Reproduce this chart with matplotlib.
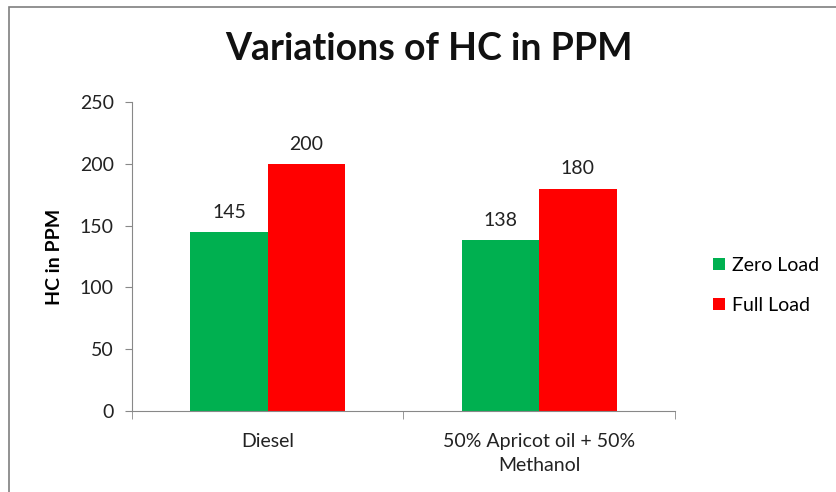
import matplotlib.pyplot as plt
from matplotlib.patches import Rectangle
import numpy as np

# chart data
categories = ['Diesel', '50% Apricot oil + 50%\nMethanol']
zero_load = [145, 138]
full_load = [200, 180]
series_names = ['Zero Load', 'Full Load']
colors = ['#00B050', '#FF0000']
y_ticks = [0, 50, 100, 150, 200, 250]

plt.rcParams['font.family'] = ['Lato', 'DejaVu Sans']

fig = plt.figure(figsize=(8.37, 4.92), dpi=100)
ax = fig.add_axes([0.1577, 0.1646, 0.6487, 0.628])

# gray outer border of the chart
fig.patches.append(Rectangle((9 / 837, -0.1), 1.2, 1 - 7 / 492 + 0.1, transform=fig.transFigure,
                             fill=False, edgecolor='#7f7f7f', linewidth=1.2))

x = np.arange(len(categories))
w = 0.285
b1 = ax.bar(x - w / 2, zero_load, w, color=colors[0], label=series_names[0])
b2 = ax.bar(x + w / 2, full_load, w, color=colors[1], label=series_names[1])

for bars, vals in [(b1, zero_load), (b2, full_load)]:
    for rect, v in zip(bars, vals):
        ax.annotate(str(v), (rect.get_x() + rect.get_width() / 2, v), xytext=(0, 8),
                    textcoords='offset points', ha='center', va='bottom', fontsize=14, color='#222222')

ax.set_xlim(-0.5, len(categories) - 0.5)
ax.set_ylim(0, 250)
ax.set_yticks(y_ticks)
ax.tick_params(axis='y', labelsize=14, length=5, color='#888888', labelcolor='#222222', direction='out', pad=8)
ax.set_xticks(x)
ax.set_xticklabels(categories, fontsize=14, color='#222222', linespacing=1.5)
ax.tick_params(axis='x', length=0, pad=16)
# category boundary ticks
ax.set_xticks([-0.5, 0.5, 1.5], minor=True)
ax.tick_params(axis='x', which='minor', length=6, color='#888888')

for s in ['top', 'right']:
    ax.spines[s].set_visible(False)
for s in ['left', 'bottom']:
    ax.spines[s].set_color('#888888')

ax.set_ylabel('HC in PPM', fontsize=14, fontweight='bold', va='center')
ax.yaxis.set_label_coords(-0.142, 0.5)
fig.text(0.512, 0.9, 'Variations of HC in PPM', ha='center', va='center',
         fontsize=27, fontweight='bold', color='#111111')

fig.legend(handles=[b1, b2], labels=series_names, loc='center left',
           bbox_to_anchor=(0.831, 0.42), frameon=False, fontsize=14,
           handlelength=0.6, handleheight=0.6, handletextpad=0.4, labelspacing=1.15)

fig.savefig('out.png', dpi=100)
